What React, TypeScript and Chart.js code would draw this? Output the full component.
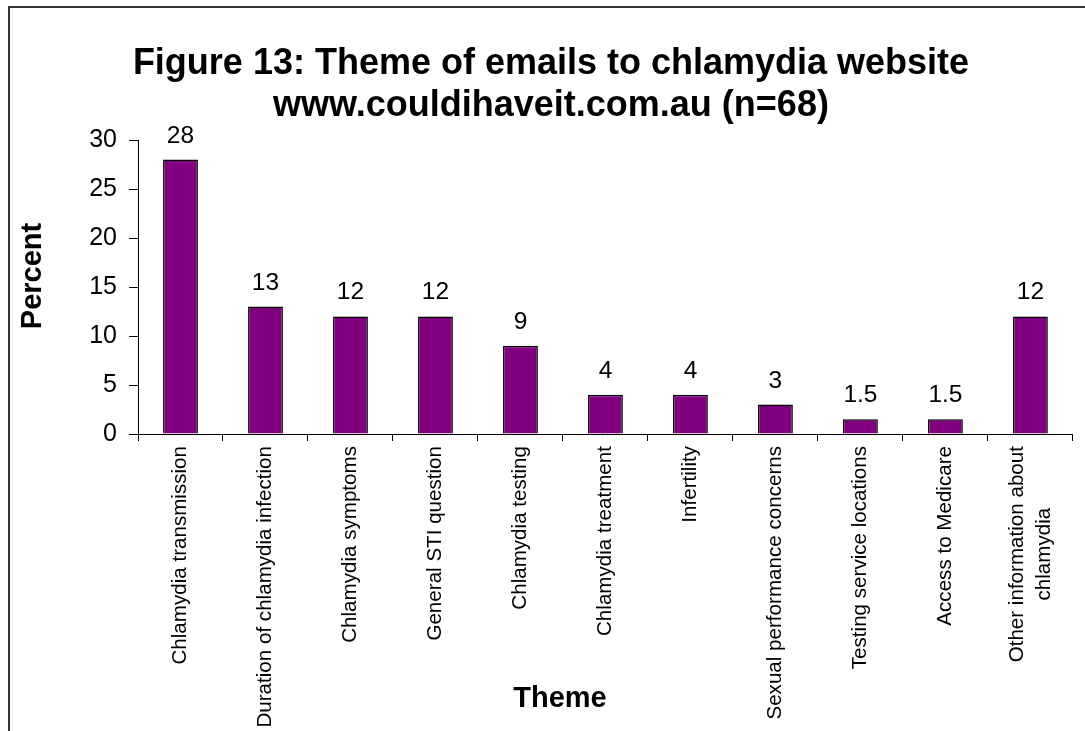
import React, { useEffect, useRef } from "react";
import { Chart, registerables } from "chart.js";

Chart.register(...registerables);

const categories: (string | string[])[] = [
  "Chlamydia transmission",
  "Duration of chlamydia infection",
  "Chlamydia symptoms",
  "General STI question",
  "Chlamydia testing",
  "Chlamydia treatment",
  "Infertility",
  "Sexual performance concerns",
  "Testing service locations",
  "Access to Medicare",
  ["Other information about", "chlamydia"],
];
const percents = [28, 13, 12, 12, 9, 4, 4, 3, 1.5, 1.5, 12];
const valueLabels = ["28", "13", "12", "12", "9", "4", "4", "3", "1.5", "1.5", "12"];
const yMin = 0;
const yMax = 30;
const yStep = 5;
const titleLines = [
  "Figure 13: Theme of emails to chlamydia website",
  "www.couldihaveit.com.au (n=68)",
];
const xTitle = "Theme";
const yTitle = "Percent";

const FONT = '"Liberation Sans", Arial, Helvetica, sans-serif';
const CW = 1080;
const CH = 740;

const decor = {
  id: "decor",
  afterDatasetsDraw(chart: any) {
    const ctx = chart.ctx;
    const meta = chart.getDatasetMeta(0);
    ctx.save();
    ctx.fillStyle = "#000";
    ctx.font = `24.5px ${FONT}`;
    ctx.textAlign = "center";
    ctx.textBaseline = "alphabetic";
    meta.data.forEach((bar: any, i: number) => {
      ctx.fillText(valueLabels[i], bar.x, bar.y - 17);
    });
    ctx.restore();
  },
  afterDraw(chart: any) {
    const ctx = chart.ctx;
    const xs = chart.scales.x;
    ctx.save();
    ctx.fillStyle = "#000";
    // category labels, rotated, multi-line centred
    ctx.font = `20.6px ${FONT}`;
    const lh = 27;
    categories.forEach((cat, i) => {
      const lines = Array.isArray(cat) ? cat : [cat];
      const x = xs.getPixelForTick(i);
      const w = Math.max(...lines.map((l) => ctx.measureText(l).width));
      ctx.save();
      ctx.translate(x, xs.top + 12);
      ctx.rotate(-Math.PI / 2);
      ctx.textAlign = "center";
      ctx.textBaseline = "middle";
      lines.forEach((l, k) => {
        ctx.fillText(l, -w / 2, (k - (lines.length - 1) / 2) * lh);
      });
      ctx.restore();
    });
    // chart title
    ctx.font = `bold 36px ${FONT}`;
    ctx.textAlign = "center";
    ctx.textBaseline = "alphabetic";
    ctx.fillText(titleLines[0], CW / 2 + 1, 66);
    ctx.fillText(titleLines[1], CW / 2 + 1, 108);
    // axis titles
    ctx.font = `bold 29px ${FONT}`;
    ctx.fillText(xTitle, 550, 699);
    ctx.save();
    ctx.translate(23, 268);
    ctx.rotate(-Math.PI / 2);
    ctx.textBaseline = "middle";
    ctx.fillText(yTitle, 0, 0);
    ctx.restore();
    ctx.restore();
  },
};

export default function App() {
  const ref = useRef<HTMLCanvasElement | null>(null);
  useEffect(() => {
    if (!ref.current) return;
    const chart = new Chart(ref.current, {
      type: "bar",
      data: {
        labels: categories as any,
        datasets: [
          {
            data: percents,
            backgroundColor: "#800080",
            borderColor: "#000",
            borderWidth: 1.5,
            barPercentage: 0.41,
            categoryPercentage: 1,
          },
        ],
      },
      options: {
        responsive: false,
        animation: false,
        devicePixelRatio: 1,
        layout: { padding: { top: 132, right: 13, left: 0, bottom: 0 } },
        plugins: {
          legend: { display: false },
          tooltip: { enabled: false },
          title: { display: false },
        },
        scales: {
          x: {
            ticks: {
              color: "rgba(0,0,0,0)",
              font: { family: FONT, size: 20, lineHeight: 1.35 },
              padding: 5,
              minRotation: 90,
              maxRotation: 90,
              autoSkip: false,
            },
            grid: { drawOnChartArea: false, tickLength: 7, color: "#000", offset: true },
            border: { display: true, color: "#000", width: 1 },
            afterFit: (s: any) => {
              s.height = CH - 426;
            },
          },
          y: {
            min: yMin,
            max: yMax,
            ticks: {
              stepSize: yStep,
              color: "#000",
              font: { family: FONT, size: 25 },
              padding: 12,
            },
            grid: { drawOnChartArea: false, tickLength: 9, color: "#000" },
            border: { display: true, color: "#000", width: 1 },
            afterFit: (s: any) => {
              s.width = 128;
            },
          },
        },
      },
      plugins: [decor],
    });
    return () => chart.destroy();
  }, []);
  return (
    <div
      style={{
        position: "fixed",
        left: 8,
        top: 6,
        width: 1077,
        height: 725,
        overflow: "hidden",
        borderLeft: "2px solid #333",
        borderTop: "2px solid #333",
        background: "#fff",
      }}
    >
      <canvas ref={ref} width={CW} height={CH} style={{ display: "block", width: CW, height: CH }} />
    </div>
  );
}
